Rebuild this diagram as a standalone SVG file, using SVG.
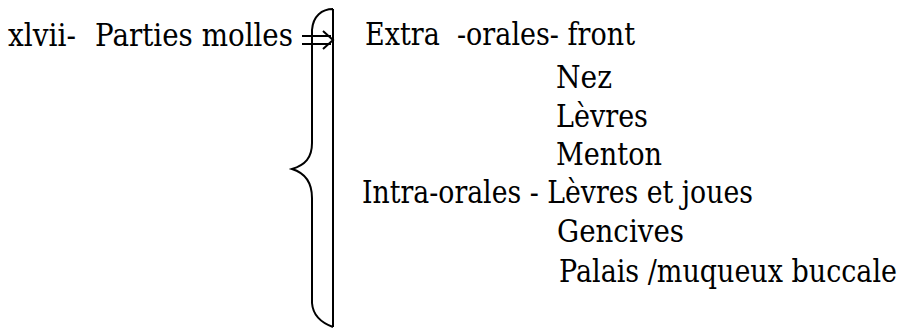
<svg xmlns="http://www.w3.org/2000/svg" width="903" height="329" viewBox="0 0 903 329">
<style>
text{font-family:'DejaVu Serif','Liberation Serif',serif;font-size:31px;fill:#000}
.ln{fill:none;stroke:#000;stroke-width:2}
</style>
<rect width="903" height="329" fill="#fff"/>
<g id="title"><text x="8" y="46" textLength="68" lengthAdjust="spacingAndGlyphs">xlvii-</text><text x="95" y="46" textLength="198" lengthAdjust="spacingAndGlyphs">Parties molles</text></g>
<g id="connectors">
<path class="ln" d="M333,9 L333,327 M333,9 C322,9 313,16 312,30 L312,143 C312,158 305,165 292,169 C305,173 312,182 312,198 L312,303 C313,316 322,323 333,327"/>
<path class="ln" d="M302,36 L331,36 M302,44 L331,44 M323,31 L333,40 L323,49"/>
</g>
<g id="extra"><text x="365" y="45" textLength="270" lengthAdjust="spacingAndGlyphs" xml:space="preserve">Extra  -orales- front</text></g>
<g id="nez"><text x="556" y="88" textLength="56" lengthAdjust="spacingAndGlyphs">Nez</text></g>
<g id="levres"><text x="556" y="127" textLength="92" lengthAdjust="spacingAndGlyphs">Lèvres</text></g>
<g id="menton"><text x="556" y="165" textLength="106" lengthAdjust="spacingAndGlyphs">Menton</text></g>
<g id="intra"><text x="362" y="203" textLength="391" lengthAdjust="spacingAndGlyphs">Intra-orales - Lèvres et joues</text></g>
<g id="gencives"><text x="557" y="242" textLength="127" lengthAdjust="spacingAndGlyphs">Gencives</text></g>
<g id="palais"><text x="559" y="282" textLength="338" lengthAdjust="spacingAndGlyphs">Palais /muqueux buccale</text></g>
</svg>
